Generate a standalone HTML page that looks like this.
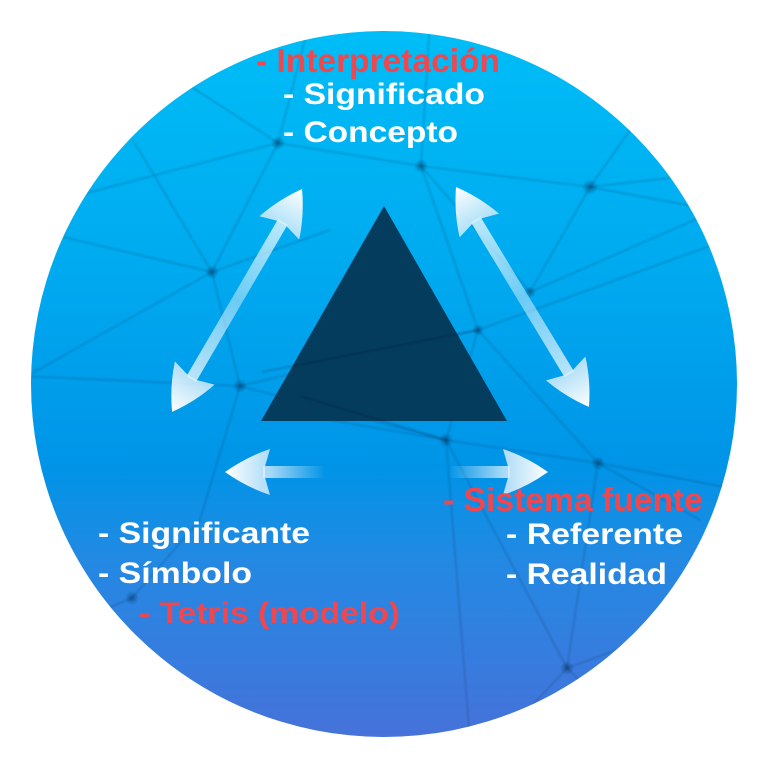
<!DOCTYPE html>
<html>
<head>
<meta charset="utf-8">
<style>
  html,body{margin:0;padding:0;background:#fff;}
  svg{display:block;}
  text{font-family:"Liberation Sans", Arial, sans-serif;font-weight:bold;}
</style>
</head>
<body>
<svg width="768" height="768" viewBox="0 0 768 768" xmlns="http://www.w3.org/2000/svg">
  <defs>
    <linearGradient id="bg" x1="0" y1="31" x2="0" y2="737" gradientUnits="userSpaceOnUse">
      <stop offset="0" stop-color="#00bdf7"/>
      <stop offset="0.35" stop-color="#00a9ef"/>
      <stop offset="0.62" stop-color="#0094e7"/>
      <stop offset="0.75" stop-color="#2389e3"/>
      <stop offset="1" stop-color="#4672da"/>
    </linearGradient>
    <clipPath id="circ"><circle cx="384" cy="384" r="353"/></clipPath>
    <filter id="blur" x="-10%" y="-10%" width="120%" height="120%"><feGaussianBlur stdDeviation="0.8"/></filter>
    <radialGradient id="node">
      <stop offset="0" stop-color="#002a50" stop-opacity="0.5"/>
      <stop offset="1" stop-color="#002a50" stop-opacity="0"/>
    </radialGradient>
    <linearGradient id="dia" x1="0" y1="0" x2="258" y2="0" gradientUnits="userSpaceOnUse">
      <stop offset="0" stop-color="#ffffff" stop-opacity="0.85"/>
      <stop offset="0.18" stop-color="#ffffff" stop-opacity="0.7"/>
      <stop offset="0.5" stop-color="#ffffff" stop-opacity="0.42"/>
      <stop offset="0.82" stop-color="#ffffff" stop-opacity="0.7"/>
      <stop offset="1" stop-color="#ffffff" stop-opacity="0.85"/>
    </linearGradient>
    <linearGradient id="hor" x1="0" y1="0" x2="100" y2="0" gradientUnits="userSpaceOnUse">
      <stop offset="0" stop-color="#ffffff" stop-opacity="0.9"/>
      <stop offset="0.45" stop-color="#ffffff" stop-opacity="0.65"/>
      <stop offset="1" stop-color="#ffffff" stop-opacity="0"/>
    </linearGradient>
    <linearGradient id="hg" x1="-45" y1="0" x2="0" y2="0" gradientUnits="userSpaceOnUse">
      <stop offset="0" stop-color="#d4ecfa" stop-opacity="0.82"/>
      <stop offset="1" stop-color="#ffffff" stop-opacity="1"/>
    </linearGradient>
    <path id="head" d="M0,0 Q-21,-15 -45,-23 L-40,-5.5 L-40,5.5 L-45,23 Q-21,15 0,0 Z" fill="url(#hg)"/>
  </defs>

  <circle cx="384" cy="384" r="353" fill="url(#bg)"/>

  <g clip-path="url(#circ)">
    <g stroke="#00305a" stroke-opacity="0.17" stroke-width="2" fill="none" filter="url(#blur)">
      <line x1="278" y1="143" x2="212" y2="272"/>
      <line x1="278" y1="143" x2="421" y2="166"/>
      <line x1="278" y1="143" x2="150" y2="60"/>
      <line x1="278" y1="143" x2="310" y2="20"/>
      <line x1="278" y1="143" x2="60" y2="200"/>
      <line x1="212" y1="272" x2="63" y2="237"/>
      <line x1="212" y1="272" x2="133" y2="140"/>
      <line x1="212" y1="272" x2="240" y2="386"/>
      <line x1="212" y1="272" x2="20" y2="380"/>
      <line x1="212" y1="272" x2="330" y2="230"/>
      <line x1="240" y1="386" x2="20" y2="376"/>
      <line x1="240" y1="386" x2="478" y2="330"/>
      <line x1="240" y1="386" x2="200" y2="520"/>
      <line x1="240" y1="386" x2="446" y2="440"/>
      <line x1="421" y1="166" x2="590" y2="187"/>
      <line x1="421" y1="166" x2="430" y2="20"/>
      <line x1="421" y1="166" x2="478" y2="330"/>
      <line x1="421" y1="166" x2="530" y2="292"/>
      <line x1="590" y1="187" x2="740" y2="170"/>
      <line x1="590" y1="187" x2="740" y2="215"/>
      <line x1="590" y1="187" x2="530" y2="292"/>
      <line x1="590" y1="187" x2="700" y2="30"/>
      <line x1="530" y1="292" x2="740" y2="200"/>
      <line x1="478" y1="330" x2="740" y2="235"/>
      <line x1="478" y1="330" x2="598" y2="463"/>
      <line x1="478" y1="330" x2="446" y2="440"/>
      <line x1="446" y1="440" x2="598" y2="463"/>
      <line x1="446" y1="440" x2="330" y2="420"/>
      <line x1="446" y1="440" x2="567" y2="668"/>
      <line x1="598" y1="463" x2="740" y2="490"/>
      <line x1="598" y1="463" x2="567" y2="668"/>
      <line x1="598" y1="463" x2="700" y2="520"/>
      <line x1="567" y1="668" x2="500" y2="740"/>
      <line x1="567" y1="668" x2="700" y2="620"/>
      <line x1="567" y1="668" x2="640" y2="740"/>
      <line x1="132" y1="598" x2="30" y2="640"/>
      <line x1="132" y1="598" x2="200" y2="520"/>
      <line x1="446" y1="440" x2="470" y2="740"/>
    </g>
    <circle cx="278" cy="143" r="7" fill="url(#node)"/>
    <circle cx="212" cy="272" r="7" fill="url(#node)"/>
    <circle cx="240" cy="386" r="7" fill="url(#node)"/>
    <circle cx="421" cy="166" r="7" fill="url(#node)"/>
    <circle cx="590" cy="187" r="8" fill="url(#node)"/>
    <circle cx="530" cy="292" r="6" fill="url(#node)"/>
    <circle cx="478" cy="330" r="6" fill="url(#node)"/>
    <circle cx="446" cy="440" r="7" fill="url(#node)"/>
    <circle cx="598" cy="463" r="7" fill="url(#node)"/>
    <circle cx="567" cy="668" r="7" fill="url(#node)"/>
    <circle cx="132" cy="598" r="7" fill="url(#node)"/>
  </g>

  <polygon points="384,206 261,421 507,421" fill="#033c5d"/>
  <g stroke="#001a30" stroke-opacity="0.16" stroke-width="2" fill="none" filter="url(#blur)">
    <line x1="262" y1="372" x2="478" y2="330"/>
    <line x1="300" y1="396" x2="446" y2="440"/>
  </g>

  <g transform="translate(302,189) rotate(120.24)">
    <rect x="38" y="-5.5" width="182" height="11" fill="url(#dia)"/>
    <use href="#head" transform="rotate(180)"/>
    <use href="#head" transform="translate(258,0)"/>
  </g>
  <g transform="translate(456,187) rotate(58.84)">
    <rect x="38" y="-5.5" width="181" height="11" fill="url(#dia)"/>
    <use href="#head" transform="rotate(180)"/>
    <use href="#head" transform="translate(257,0)"/>
  </g>
  <g transform="translate(225,472)">
    <rect x="38" y="-6" width="62" height="12" fill="url(#hor)"/>
    <use href="#head" transform="rotate(180)"/>
  </g>
  <g transform="translate(548,472) rotate(180)">
    <rect x="38" y="-6" width="70" height="12" fill="url(#hor)"/>
    <use href="#head" transform="rotate(180)"/>
  </g>

  <text x="256" y="72" font-size="33" fill="#f2464f" textLength="244" lengthAdjust="spacingAndGlyphs">- Interpretación</text>
  <text x="283" y="104" font-size="30" fill="#ffffff" textLength="202" lengthAdjust="spacingAndGlyphs">- Significado</text>
  <text x="283" y="142" font-size="30" fill="#ffffff" textLength="175" lengthAdjust="spacingAndGlyphs">- Concepto</text>

  <text x="443" y="511" font-size="33" fill="#f2464f" textLength="260" lengthAdjust="spacingAndGlyphs">- Sistema fuente</text>
  <text x="506" y="544" font-size="30" fill="#ffffff" textLength="177" lengthAdjust="spacingAndGlyphs">- Referente</text>
  <text x="506" y="584" font-size="30" fill="#ffffff" textLength="161" lengthAdjust="spacingAndGlyphs">- Realidad</text>

  <text x="98" y="543" font-size="30" fill="#ffffff" textLength="212" lengthAdjust="spacingAndGlyphs">- Significante</text>
  <text x="98" y="583" font-size="30" fill="#ffffff" textLength="154" lengthAdjust="spacingAndGlyphs">- Símbolo</text>
  <text x="139" y="623" font-size="30" fill="#f2464f" textLength="261" lengthAdjust="spacingAndGlyphs">- Tetris (modelo)</text>
</svg>
</body>
</html>
